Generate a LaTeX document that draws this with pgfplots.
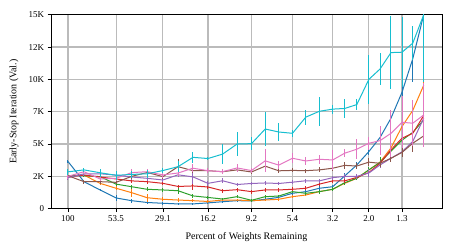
\documentclass[border=0pt]{standalone}
\usepackage{fontspec}
\setmainfont{Liberation Serif}
\usepackage{pgfplots}
\usepackage{pgfplotstable}
\pgfplotsset{compat=1.18}
\definecolor{c0}{HTML}{1F77B4}
\definecolor{c1}{HTML}{FF7F0E}
\definecolor{c2}{HTML}{2CA02C}
\definecolor{c3}{HTML}{D62728}
\definecolor{c4}{HTML}{9467BD}
\definecolor{c5}{HTML}{8C564B}
\definecolor{c6}{HTML}{E377C2}
\definecolor{c9}{HTML}{17BECF}
\definecolor{gridgray}{HTML}{BBBBBB}

% percent remaining, then mean and error for each run
\pgfplotstableread{
x     b     be   o    oe   g    ge   r    re   p    pe   br   bre  pk   pke  c     ce
100   3650  150  2550 150  2550 150  2450 150  2400 150  2550 150  2500 200  2850  250
81.2  2090  100  2600 150  2550 100  2600 100  2700 150  2090 150  2860 200  3000  150
65.9  1450  100  1960 150  2480 150  2450 150  2700 200  2090 150  2300 150  2780  300
53.5  830   250  1580 150  1900 150  2300 150  2600 200  2040 150  2350 200  2580  350
43.7  620   150  1240 320  1700 150  2150 150  2450 200  2500 200  2790 250  2650  300
35.7  480   100  850  300  1500 150  2090 150  2350 200  2800 300  2860 200  2700  300
29.1  420   100  730  150  1450 150  1960 150  2220 150  2480 200  2610 200  2950  200
23.9  370   100  670  150  1390 250  1720 150  2620 200  3250 580  2760 200  3250  450
19.7  370   100  620  100  990  150  1760 320  2460 520  2940 200  3130 300  3970  450
16.2  450   100  560  100  870  100  1680 150  1960 200  2940 150  2940 200  3880  150
13.4  540   100  670  100  750  100  1390 150  2160 200  2860 150  2860 200  4220  800
11.1  620   100  670  100  930  100  1470 150  1870 150  3000 150  3150 300  5000  950
9.2   600   100  620  100  650  100  1320 150  1950 150  2840 150  2950 200  5030  500
7.7   730   150  670  100  930  100  1450 150  1990 150  3290 300  3700 900  6160  1300
6.45  880   100  730  100  980  100  1450 150  1950 150  2930 150  3370 300  5930  720
5.4   1190  100  930  100  1320 100  1500 150  2050 150  2960 150  3900 400  5830  250
4.54  1320  100  1060 100  1190 100  1580 150  2160 150  2940 150  3690 300  7080  580
3.81  1580  150  1320 150  1320 150  1900 150  2150 150  3000 200  3820 350  7530  1100
3.2   1700  150  1500 150  1500 150  2150 150  2400 150  3130 200  3770 770  7700  350
2.74  2530  200  1960 150  2010 150  2150 150  2500 200  3350 250  4290 300  7750  770
2.34  3380  200  2350 150  2350 150  2420 150  2500 200  3300 200  4600 770  8050  400
2.0   4420  300  3000 200  3000 200  2800 200  2760 300  3600 300  5060 500  10000 1900
1.73  5500  300  3600 200  3580 400  3500 200  3380 200  3510 250  5260 1100 10800 1200
1.5   7000  400  4700 250  4450 250  4550 250  3900 250  3900 300  5830 1800 12070 2800
1.3   9000  500  6350 300  5300 300  5450 300  4400 300  4350 350  6680 2000 12100 2700
1.13  11600 1800 7600 400  5900 400  5830 400  5200 400  5060 640  6610 1800 12800 1300
0.98  15000 800  9550 400  6870 400  7200 400  7000 400  5630 400  7250 2500 15000 5200
}\runs

\pgfplotsset{
  run/.style={color=#1, mark=none, line width=1bp,
    error bars/.cd, y dir=both, y explicit, error mark=none,
    error bar style={line width=1bp, color=#1}},
}

\begin{document}
\begin{tikzpicture}
\path[use as bounding box] (-51bp,-43.3bp) rectangle (406bp,208.7bp);
\begin{axis}[
  scale only axis,
  width=391bp, height=194bp,
  xmode=log, x dir=reverse,
  xmin=0.773, xmax=124.7,
  ymin=0, ymax=15000,
  xtick={100,53.5,29.1,16.2,9.2,5.4,3.2,2.0,1.3},
  xticklabels={100,53.5,29.1,16.2,9.2,5.4,3.2,2.0,1.3},
  minor xtick={},
  ytick={0,2500,5000,7500,10000,12500,15000},
  yticklabels={0,2K,5K,7K,10K,12K,15K},
  scaled y ticks=false,
  grid=major,
  major grid style={color=gridgray, line width=1.1bp},
  tick align=outside,
  xtick pos=bottom, ytick pos=left,
  major tick length=3.5bp,
  tick style={black, line width=0.8bp},
  axis line style={line width=0.8bp},
  ticklabel style={font=\fontsize{9}{10}\selectfont},
  /pgf/number format/assume math mode=true,
  xlabel={Percent of Weights Remaining},
  ylabel={Early-Stop Iteration (Val.)},
  label style={font=\fontsize{10}{12}\selectfont},
  xlabel style={at={(axis description cs:0.5,-0.1613)}, anchor=base},
  ylabel style={at={(axis description cs:-0.0946,0.5)}, anchor=center},
]
\addplot[run=c0] table[x=x, y=b,  y error=be]  {\runs};
\addplot[run=c1] table[x=x, y=o,  y error=oe]  {\runs};
\addplot[run=c2] table[x=x, y=g,  y error=ge]  {\runs};
\addplot[run=c3] table[x=x, y=r,  y error=re]  {\runs};
\addplot[run=c4] table[x=x, y=p,  y error=pe]  {\runs};
\addplot[run=c5] table[x=x, y=br, y error=bre] {\runs};
\addplot[run=c6] table[x=x, y=pk, y error=pke] {\runs};
\addplot[run=c9] table[x=x, y=c,  y error=ce]  {\runs};
\end{axis}
\end{tikzpicture}
\end{document}
